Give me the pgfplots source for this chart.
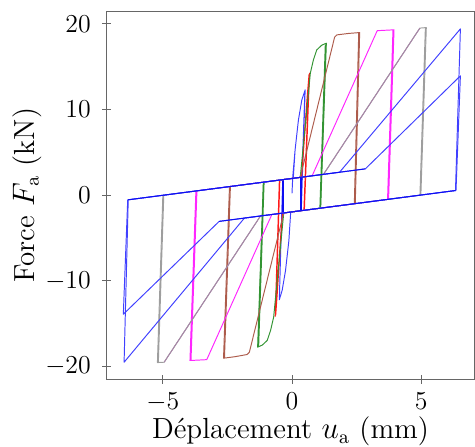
\documentclass[border=0pt]{standalone}
\usepackage{pgfplots}
\pgfplotsset{compat=1.18}
\definecolor{cBlue}{rgb}{0.25,0.25,1}
\definecolor{cBlueD}{rgb}{0.05,0.05,0.95}
\definecolor{cRed}{rgb}{1,0.1,0.1}
\definecolor{cGreen}{rgb}{0.2,0.58,0.2}
\definecolor{cBrown}{rgb}{0.68,0.36,0.3}
\definecolor{cMag}{rgb}{1,0.15,1}
\definecolor{cGray}{rgb}{0.62,0.62,0.62}
\definecolor{cMauve}{rgb}{0.66,0.52,0.66}
\begin{document}
\begin{tikzpicture}
\begin{axis}[
 scale only axis, width=170.7pt, height=171.1pt,
 xmin=-7.17, xmax=7.06, ymin=-21.5, ymax=21.5,
 xtick={-5,0,5}, ytick={-20,-10,0,10,20},
 tick align=center, xtick pos=left, ytick pos=left,
 axis line style={black!60}, every tick/.style={black!60},
 ticklabel style={font=\large},
 xticklabel style={yshift=-0.5pt},
 yticklabel style={xshift=-1.8pt},
 label style={font=\fontsize{13.5}{16}\selectfont},
 xlabel={D\'eplacement $u_{\mathrm{a}}$ (mm)},
 ylabel={Force $F_{\mathrm{a}}$ (kN)},
 xlabel shift=-4.3pt, ylabel shift=-5pt,
 unbounded coords=jump,
 every axis plot/.append style={line width=0.45pt, line join=round},
]
% blue small
\addplot[cBlue] coordinates {(0,0.2) (0.03,2.17) (0.12,5.29) (0.25,8.79) (0.38,11.1) (0.51,12.3) (0.36,-1.81) (-0.05,-1.97) (-0.12,-5.29) (-0.25,-8.79) (-0.38,-11.1) (-0.49,-12.2) (-0.36,1.81) (0.05,1.97) (0.12,5.29) (0.25,8.79) (0.38,11.1) (0.50,12.2) (0.34,-1.82)};
\addplot[cBlueD, line width=0.7pt] coordinates {(0.35,2.09) (0.35,-1.81) (nan,nan) (-0.35,1.81) (-0.35,-2.09)};
% red
\addplot[cRed] coordinates {(0.37,2.10) (0.45,5.3) (0.60,11.5) (0.68,14.24) (0.48,-1.76) (-0.37,-2.10) (-0.45,-5.3) (-0.58,-11.4) (-0.65,-14.16) (-0.49,1.76) (0.37,2.10) (0.44,5.3) (0.59,11.6) (0.66,14.1) (0.46,-1.77) (-0.36,-2.09) (-0.44,-5.3) (-0.57,-11.5) (-0.63,-14.0) (-0.47,1.77) (0.36,2.09)};
% green
\addplot[cGreen] coordinates {(0.32,2.08) (0.71,14.24) (0.83,15.8) (0.96,16.96) (1.15,17.5) (1.33,17.74) (1.11,-1.51) (-0.32,-2.08) (-0.71,-14.24) (-0.83,-15.8) (-0.96,-16.96) (-1.15,-17.5) (-1.33,-17.74) (-1.11,1.51) (0.32,2.08)};
\addplot[cGreen, line width=0.7pt] coordinates {(1.30,17.6) (1.09,-1.52) (nan,nan) (-1.30,-17.6) (-1.09,1.52)};
% brown
\addplot[cBrown] coordinates {(0.32,2.08) (1.65,18.44) (1.74,18.71) (2.2,18.88) (2.62,18.98) (2.45,-0.99) (-0.32,-2.08) (-1.65,-18.33) (-1.74,-18.6) (-2.2,-18.85) (-2.65,-19.03) (-2.42,1.0) (0.32,2.08)};
\addplot[cBrown, line width=0.6pt] coordinates {(2.59,18.97) (2.42,-1.0) (nan,nan) (-2.62,-19.0) (-2.39,1.01)};
% magenta
\addplot[cMag] coordinates {(0.78,2.26) (3.30,19.2) (3.95,19.3) (3.74,-0.48) (-0.78,-2.26) (-3.30,-19.2) (-3.95,-19.3) (-3.72,0.49) (0.78,2.26)};
\addplot[cMag, line width=0.7pt] coordinates {(3.92,19.28) (3.71,-0.49) (nan,nan) (-3.92,-19.28) (-3.69,0.50)};
% gray
\addplot[cGray] coordinates {(1.22,2.43) (4.95,19.5) (5.20,19.56) (4.99,0.01) (-1.22,-2.43) (-4.95,-19.5) (-5.21,-19.54) (-5.0,-0.02) (1.22,2.43)};
\addplot[cGray, line width=0.6pt] coordinates {(5.17,19.55) (4.96,0.0) (nan,nan) (-5.18,-19.53) (-4.97,-0.01)};
\addplot[cMauve] coordinates {(1.22,2.43) (4.95,19.5) (nan,nan) (-1.22,-2.43) (-4.95,-19.5)};
% blue big, two cycles
\addplot[cBlue] coordinates {(6.33,0.54) (-1.84,-2.67) (-6.50,-19.5) (-6.34,-0.54) (1.84,2.67) (6.52,19.41) (6.33,0.54)};
\addplot[cBlue] coordinates {(6.35,0.55) (-2.82,-3.06) (-6.53,-13.9) (-6.36,-0.55) (2.84,3.07) (6.52,13.93) (6.35,0.55)};
\addplot[cBlueD] coordinates {(-6.34,-0.54) (2.84,3.07) (nan,nan) (6.33,0.54) (-2.82,-3.06)};
\end{axis}
\pgfresetboundingbox
\path[use as bounding box] ([xshift=-49.6pt,yshift=-31.1pt]current axis.south west) rectangle ([xshift=0.3pt,yshift=5.1pt]current axis.north east);
\end{tikzpicture}
\end{document}
